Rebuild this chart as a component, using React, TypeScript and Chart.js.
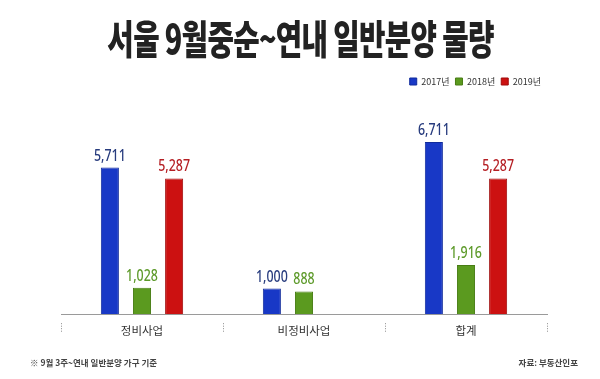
import React, { useEffect, useRef } from "react";
import { Chart, registerables } from "chart.js";

Chart.register(...registerables);

const categories = ["정비사업", "비정비사업", "합계"];
const seriesNames = ["2017년", "2018년", "2019년"];
const values2017: (number | null)[] = [5711, 1000, 6711];
const values2018: (number | null)[] = [1028, 888, 1916];
const values2019: (number | null)[] = [5287, null, 5287];
const barColors = ["#1838c6", "#5b9a1f", "#cc1111"];
const borderColors = ["#102b9c", "#487d14", "#a00b0b"];
const labelColors = ["#283c7e", "#5d9a2a", "#b51f24"];
const titleText = "서울 9월중순~연내 일반분양 물량";
const footnoteText = "※ 9월 3주~연내 일반분양 가구 기준";
const sourceText = "자료: 부동산인포";
const yMax = 8500;

const KR = "'Noto Sans CJK KR', 'Noto Sans', sans-serif";

const valueLabels = {
  id: "valueLabels",
  afterDatasetsDraw(chart: any) {
    const ctx = chart.ctx;
    chart.data.datasets.forEach((ds: any, di: number) => {
      const meta = chart.getDatasetMeta(di);
      meta.data.forEach((el: any, i: number) => {
        const v = ds.data[i];
        if (v == null) return;
        ctx.save();
        ctx.translate(el.x, el.y - 7);
        ctx.scale(0.8, 1);
        ctx.font = "500 15.5px 'Noto Sans', sans-serif";
        ctx.fillStyle = labelColors[di];
        ctx.textAlign = "center";
        ctx.textBaseline = "alphabetic";
        ctx.fillText(Number(v).toLocaleString("en-US"), 0, 0);
        ctx.restore();
      });
    });
  },
};

const separators = {
  id: "separators",
  afterDraw(chart: any) {
    const ctx = chart.ctx;
    const xs = chart.scales.x;
    const base = chart.chartArea.bottom;
    ctx.save();
    ctx.strokeStyle = "#8a8a8a";
    ctx.lineWidth = 1;
    ctx.setLineDash([1, 1.5]);
    for (let i = 0; i <= categories.length; i++) {
      const x = Math.round(xs.getPixelForValue(i - 0.5)) + 0.5;
      ctx.beginPath();
      ctx.moveTo(x, base + 9);
      ctx.lineTo(x, base + 19);
      ctx.stroke();
    }
    ctx.restore();
  },
};

export default function App() {
  const ref = useRef<HTMLCanvasElement | null>(null);
  useEffect(() => {
    if (!ref.current) return;
    const series = [values2017, values2018, values2019];
    const chart = new Chart(ref.current, {
      type: "bar",
      data: {
        labels: categories,
        datasets: series.map((d, i) => ({
          label: seriesNames[i],
          data: d,
          backgroundColor: barColors[i],
          borderColor: borderColors[i],
          borderWidth: 1,
          categoryPercentage: 0.595,
          barPercentage: 0.5625,
        })),
      },
      options: {
        animation: false,
        responsive: false,
        maintainAspectRatio: false,
        layout: { padding: { left: 61, right: 53, top: 71, bottom: 31 } },
        plugins: {
          legend: {
            display: true,
            position: "top",
            align: "end",
            labels: {
              boxWidth: 7,
              boxHeight: 7,
              padding: 6,
              color: "#333",
              font: { family: KR, size: 9 },
            },
          },
          title: { display: false },
          tooltip: { enabled: false },
        },
        scales: {
          x: {
            grid: { display: false, drawTicks: false },
            border: { display: true, color: "#9a9a9a", width: 1 },
            ticks: { color: "#333", padding: 10, font: { family: KR, size: 11.5 } },
          },
          y: {
            display: false,
            min: 0,
            max: yMax,
          },
        },
      },
      plugins: [valueLabels, separators],
    });
    return () => chart.destroy();
  }, []);

  return (
    <div style={{ position: "absolute", left: 0, top: 0, width: 600, height: 379, background: "#fff", overflow: "hidden" }}>
      <canvas ref={ref} width={600} height={379} style={{ position: "absolute", left: 0, top: 0, width: 600, height: 379 }} />
      <div
        style={{
          position: "absolute",
          left: 0,
          top: 17,
          width: 600,
          textAlign: "center",
          fontFamily: KR,
          fontWeight: 900,
          fontSize: 40,
          lineHeight: "40px",
          color: "#222",
          transform: "scaleX(0.72)",
          transformOrigin: "302px 0",
          whiteSpace: "nowrap",
          letterSpacing: "-1px",
        }}
      >
        {titleText}
      </div>
      <div style={{ position: "absolute", left: 30, top: 356, fontFamily: KR, fontSize: 8.5, fontWeight: 700, color: "#444", whiteSpace: "nowrap", lineHeight: "12px" }}>
        {footnoteText}
      </div>
      <div style={{ position: "absolute", right: 22, top: 356, fontFamily: KR, fontSize: 8.5, fontWeight: 700, color: "#444", whiteSpace: "nowrap", lineHeight: "12px" }}>
        {sourceText}
      </div>
    </div>
  );
}
